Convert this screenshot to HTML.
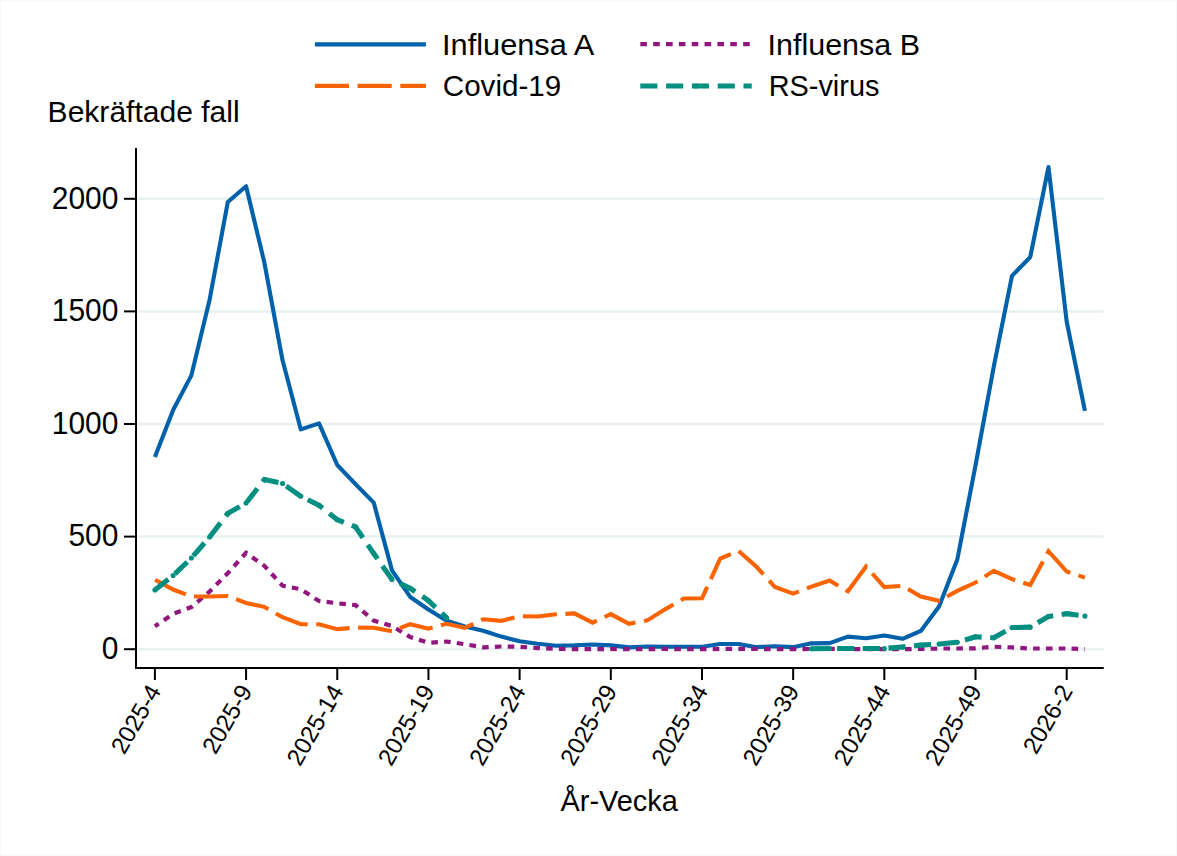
<!DOCTYPE html>
<html><head><meta charset="utf-8"><style>
html,body{margin:0;padding:0;background:#fff;}
body{width:1177px;height:856px;overflow:hidden;}
svg{display:block;}
text{font-family:"Liberation Sans",sans-serif;font-size:30px;fill:#000;}
</style></head><body>
<svg width="1177" height="856" viewBox="0 0 1177 856">
<rect x="0" y="0" width="1177" height="856" fill="#ffffff"/>
<rect x="0.5" y="0.5" width="1176" height="855" fill="none" stroke="#f5f9f9" stroke-width="1"/>
<line x1="138" y1="649.20" x2="1103.6" y2="649.20" stroke="#e8f0f2" stroke-width="2.5"/>
<line x1="138" y1="536.60" x2="1103.6" y2="536.60" stroke="#e8f0f2" stroke-width="2.5"/>
<line x1="138" y1="424.00" x2="1103.6" y2="424.00" stroke="#e8f0f2" stroke-width="2.5"/>
<line x1="138" y1="311.40" x2="1103.6" y2="311.40" stroke="#e8f0f2" stroke-width="2.5"/>
<line x1="138" y1="198.80" x2="1103.6" y2="198.80" stroke="#e8f0f2" stroke-width="2.5"/>
<path d="M154.90,457.10 L173.14,410.04 L191.37,375.36 L209.61,299.69 L227.84,201.95 L246.08,186.19 L264.32,262.31 L282.55,360.27 L300.79,429.40 L319.02,423.32 L337.26,464.99 L355.50,484.13 L373.73,502.59 L391.97,570.38 L410.20,596.95 L428.44,609.56 L446.68,620.82 L464.91,626.45 L483.15,630.73 L501.38,636.59 L519.62,641.32 L537.86,643.80 L556.09,645.82 L574.33,645.37 L592.56,644.47 L610.80,645.37 L629.04,647.40 L647.27,646.50 L665.51,646.72 L683.74,646.72 L701.98,646.72 L720.22,644.02 L738.45,644.02 L756.69,647.17 L774.92,646.27 L793.16,647.17 L811.40,643.34 L829.63,643.12 L847.87,636.59 L866.10,638.17 L884.34,635.46 L902.58,638.84 L920.81,630.96 L939.05,606.41 L957.28,559.57 L975.52,465.44 L993.76,366.57 L1011.99,275.82 L1030.23,257.13 L1048.46,167.05 L1066.70,321.76 L1084.94,410.94" fill="none" stroke="#0061ab" stroke-width="4.1" stroke-linejoin="round"/>
<path d="M154.90,626.23 L173.14,613.84 L191.37,607.09 L209.61,591.55 L227.84,573.08 L246.08,552.81 L264.32,565.88 L282.55,585.69 L300.79,589.30 L319.02,601.01 L337.26,603.26 L355.50,605.06 L373.73,620.60 L391.97,626.00 L410.20,637.04 L428.44,642.89 L446.68,641.54 L464.91,644.25 L483.15,647.40 L501.38,646.50 L519.62,646.72 L537.86,648.07 L556.09,648.75 L574.33,649.20 L592.56,649.20 L610.80,648.97 L629.04,649.20 L647.27,649.20 L665.51,648.97 L683.74,649.20 L701.98,649.20 L720.22,648.97 L738.45,648.97 L756.69,648.97 L774.92,649.20 L793.16,649.20 L811.40,648.97 L829.63,648.97 L847.87,648.97 L866.10,649.20 L884.34,649.20 L902.58,649.20 L920.81,648.97 L939.05,648.52 L957.28,648.52 L975.52,648.30 L993.76,646.72 L1011.99,647.40 L1030.23,648.52 L1048.46,648.52 L1066.70,648.52 L1084.94,649.20" fill="none" stroke="#91177e" stroke-width="4.2" stroke-dasharray="6.6 6.22" stroke-dashoffset="2.0" stroke-linejoin="miter"/>
<path d="M154.90,579.61 L173.14,589.52 L191.37,596.50 L209.61,596.50 L227.84,596.05 L246.08,603.03 L264.32,606.86 L282.55,617.22 L300.79,624.20 L319.02,624.20 L337.26,629.16 L355.50,627.58 L373.73,627.81 L391.97,631.18 L410.20,624.20 L428.44,628.71 L446.68,623.75 L464.91,627.81 L483.15,619.25 L501.38,620.82 L519.62,616.10 L537.86,616.55 L556.09,614.29 L574.33,613.39 L592.56,622.63 L610.80,614.07 L629.04,623.75 L647.27,620.37 L665.51,609.11 L683.74,598.53 L701.98,598.30 L720.22,558.67 L738.45,550.79 L756.69,567.00 L774.92,587.04 L793.16,593.58 L811.40,586.59 L829.63,580.51 L847.87,591.32 L866.10,566.55 L884.34,587.04 L902.58,585.92 L920.81,596.50 L939.05,600.78 L957.28,590.87 L975.52,582.54 L993.76,570.83 L1011.99,579.16 L1030.23,585.02 L1048.46,551.24 L1066.70,571.51 L1084.94,577.59" fill="none" stroke="#fa6400" stroke-width="4.1" stroke-dasharray="34.1 8.55" stroke-dashoffset="-0.25" stroke-linejoin="miter"/>
<path d="M154.90,589.97 L173.14,575.56 L191.37,557.99 L209.61,537.05 L227.84,513.40 L246.08,503.05 L264.32,479.62 L282.55,483.45 L300.79,496.29 L319.02,505.30 L337.26,519.71 L355.50,526.92 L373.73,553.49 L391.97,579.39 L410.20,588.40 L428.44,600.56 L446.68,617.90" fill="none" stroke="#008f80" stroke-width="5.1" stroke-dasharray="17.1 8.6" stroke-linejoin="round"/>
<circle cx="154.90" cy="589.97" r="2.55" fill="#008f80"/>
<circle cx="173.14" cy="575.56" r="2.55" fill="#008f80"/>
<circle cx="191.37" cy="557.99" r="2.55" fill="#008f80"/>
<circle cx="209.61" cy="537.05" r="2.55" fill="#008f80"/>
<circle cx="227.84" cy="513.40" r="2.55" fill="#008f80"/>
<circle cx="246.08" cy="503.05" r="2.55" fill="#008f80"/>
<circle cx="264.32" cy="479.62" r="2.55" fill="#008f80"/>
<circle cx="282.55" cy="483.45" r="2.55" fill="#008f80"/>
<circle cx="300.79" cy="496.29" r="2.55" fill="#008f80"/>
<circle cx="319.02" cy="505.30" r="2.55" fill="#008f80"/>
<circle cx="337.26" cy="519.71" r="2.55" fill="#008f80"/>
<circle cx="355.50" cy="526.92" r="2.55" fill="#008f80"/>
<circle cx="373.73" cy="553.49" r="2.55" fill="#008f80"/>
<circle cx="391.97" cy="579.39" r="2.55" fill="#008f80"/>
<circle cx="410.20" cy="588.40" r="2.55" fill="#008f80"/>
<circle cx="428.44" cy="600.56" r="2.55" fill="#008f80"/>
<circle cx="446.68" cy="617.90" r="2.55" fill="#008f80"/>
<path d="M811.40,648.75 L829.63,648.52 L847.87,648.52 L866.10,648.52 L884.34,648.52 L902.58,646.95 L920.81,645.15 L939.05,644.02 L957.28,642.22 L975.52,636.81 L993.76,637.71 L1011.99,627.58 L1030.23,627.13 L1048.46,616.55 L1066.70,613.62 L1084.94,616.10" fill="none" stroke="#008f80" stroke-width="5.1" stroke-dasharray="17.1 8.6" stroke-linejoin="round"/>
<circle cx="811.40" cy="648.75" r="2.55" fill="#008f80"/>
<circle cx="829.63" cy="648.52" r="2.55" fill="#008f80"/>
<circle cx="847.87" cy="648.52" r="2.55" fill="#008f80"/>
<circle cx="866.10" cy="648.52" r="2.55" fill="#008f80"/>
<circle cx="884.34" cy="648.52" r="2.55" fill="#008f80"/>
<circle cx="902.58" cy="646.95" r="2.55" fill="#008f80"/>
<circle cx="920.81" cy="645.15" r="2.55" fill="#008f80"/>
<circle cx="939.05" cy="644.02" r="2.55" fill="#008f80"/>
<circle cx="957.28" cy="642.22" r="2.55" fill="#008f80"/>
<circle cx="975.52" cy="636.81" r="2.55" fill="#008f80"/>
<circle cx="993.76" cy="637.71" r="2.55" fill="#008f80"/>
<circle cx="1011.99" cy="627.58" r="2.55" fill="#008f80"/>
<circle cx="1030.23" cy="627.13" r="2.55" fill="#008f80"/>
<circle cx="1048.46" cy="616.55" r="2.55" fill="#008f80"/>
<circle cx="1066.70" cy="613.62" r="2.55" fill="#008f80"/>
<circle cx="1084.94" cy="616.10" r="2.55" fill="#008f80"/>
<line x1="136" y1="148" x2="136" y2="669" stroke="#000" stroke-width="2"/>
<line x1="135" y1="668" x2="1103.7" y2="668" stroke="#000" stroke-width="2"/>
<line x1="124" y1="649.20" x2="136" y2="649.20" stroke="#000" stroke-width="2"/>
<line x1="124" y1="536.60" x2="136" y2="536.60" stroke="#000" stroke-width="2"/>
<line x1="124" y1="424.00" x2="136" y2="424.00" stroke="#000" stroke-width="2"/>
<line x1="124" y1="311.40" x2="136" y2="311.40" stroke="#000" stroke-width="2"/>
<line x1="124" y1="198.80" x2="136" y2="198.80" stroke="#000" stroke-width="2"/>
<line x1="154.90" y1="668" x2="154.90" y2="680" stroke="#000" stroke-width="2"/>
<line x1="246.08" y1="668" x2="246.08" y2="680" stroke="#000" stroke-width="2"/>
<line x1="337.26" y1="668" x2="337.26" y2="680" stroke="#000" stroke-width="2"/>
<line x1="428.44" y1="668" x2="428.44" y2="680" stroke="#000" stroke-width="2"/>
<line x1="519.62" y1="668" x2="519.62" y2="680" stroke="#000" stroke-width="2"/>
<line x1="610.80" y1="668" x2="610.80" y2="680" stroke="#000" stroke-width="2"/>
<line x1="701.98" y1="668" x2="701.98" y2="680" stroke="#000" stroke-width="2"/>
<line x1="793.16" y1="668" x2="793.16" y2="680" stroke="#000" stroke-width="2"/>
<line x1="884.34" y1="668" x2="884.34" y2="680" stroke="#000" stroke-width="2"/>
<line x1="975.52" y1="668" x2="975.52" y2="680" stroke="#000" stroke-width="2"/>
<line x1="1066.70" y1="668" x2="1066.70" y2="680" stroke="#000" stroke-width="2"/>
<line x1="314.9" y1="44.4" x2="425.9" y2="44.4" stroke="#0061ab" stroke-width="4.1"/>
<line x1="314.9" y1="85.9" x2="425.9" y2="85.9" stroke="#fa6400" stroke-width="4.1" stroke-dasharray="34.1 8.6"/>
<line x1="640.3" y1="44.2" x2="750" y2="44.2" stroke="#91177e" stroke-width="4.2" stroke-dasharray="6.6 6.25"/>
<line x1="640.3" y1="86" x2="751.7" y2="86" stroke="#008f80" stroke-width="5.1" stroke-dasharray="17.1 8.7"/>
<circle cx="696" cy="86" r="2.55" fill="#008f80"/>
<text transform="translate(442.00,55.00) scale(1.0260,1)" x="0" y="0" style="font-size:30px">Influensa A</text>
<text transform="translate(442.80,96.00) scale(0.9860,1)" x="0" y="0" style="font-size:30px">Covid-19</text>
<text transform="translate(767.55,55.00) scale(1.0160,1)" x="0" y="0" style="font-size:30px">Influensa B</text>
<text transform="translate(768.70,96.00) scale(0.9630,1)" x="0" y="0" style="font-size:30px">RS-virus</text>
<text transform="translate(47.60,121.80) scale(1.0020,1)" x="0" y="0" style="font-size:30px">Bekräftade fall</text>
<text transform="translate(118.4,658.90) scale(0.95,1)" x="0" y="0" text-anchor="end" style="font-size:31.5px">0</text>
<text transform="translate(118.4,546.30) scale(0.95,1)" x="0" y="0" text-anchor="end" style="font-size:31.5px">500</text>
<text transform="translate(118.4,433.70) scale(0.95,1)" x="0" y="0" text-anchor="end" style="font-size:31.5px">1000</text>
<text transform="translate(118.4,321.10) scale(0.95,1)" x="0" y="0" text-anchor="end" style="font-size:31.5px">1500</text>
<text transform="translate(118.4,208.50) scale(0.95,1)" x="0" y="0" text-anchor="end" style="font-size:31.5px">2000</text>
<text x="0" y="0" text-anchor="end" transform="translate(161.70,690.9) rotate(-60)" style="font-size:24px">2025-4</text>
<text x="0" y="0" text-anchor="end" transform="translate(252.88,690.9) rotate(-60)" style="font-size:24px">2025-9</text>
<text x="0" y="0" text-anchor="end" transform="translate(344.06,690.9) rotate(-60)" style="font-size:24px">2025-14</text>
<text x="0" y="0" text-anchor="end" transform="translate(435.24,690.9) rotate(-60)" style="font-size:24px">2025-19</text>
<text x="0" y="0" text-anchor="end" transform="translate(526.42,690.9) rotate(-60)" style="font-size:24px">2025-24</text>
<text x="0" y="0" text-anchor="end" transform="translate(617.60,690.9) rotate(-60)" style="font-size:24px">2025-29</text>
<text x="0" y="0" text-anchor="end" transform="translate(708.78,690.9) rotate(-60)" style="font-size:24px">2025-34</text>
<text x="0" y="0" text-anchor="end" transform="translate(799.96,690.9) rotate(-60)" style="font-size:24px">2025-39</text>
<text x="0" y="0" text-anchor="end" transform="translate(891.14,690.9) rotate(-60)" style="font-size:24px">2025-44</text>
<text x="0" y="0" text-anchor="end" transform="translate(982.32,690.9) rotate(-60)" style="font-size:24px">2025-49</text>
<text x="0" y="0" text-anchor="end" transform="translate(1073.50,690.9) rotate(-60)" style="font-size:24px">2026-2</text>
<text transform="translate(619.2,810.8) scale(0.964,1)" x="0" y="0" text-anchor="middle">År-Vecka</text>
</svg>
</body></html>
